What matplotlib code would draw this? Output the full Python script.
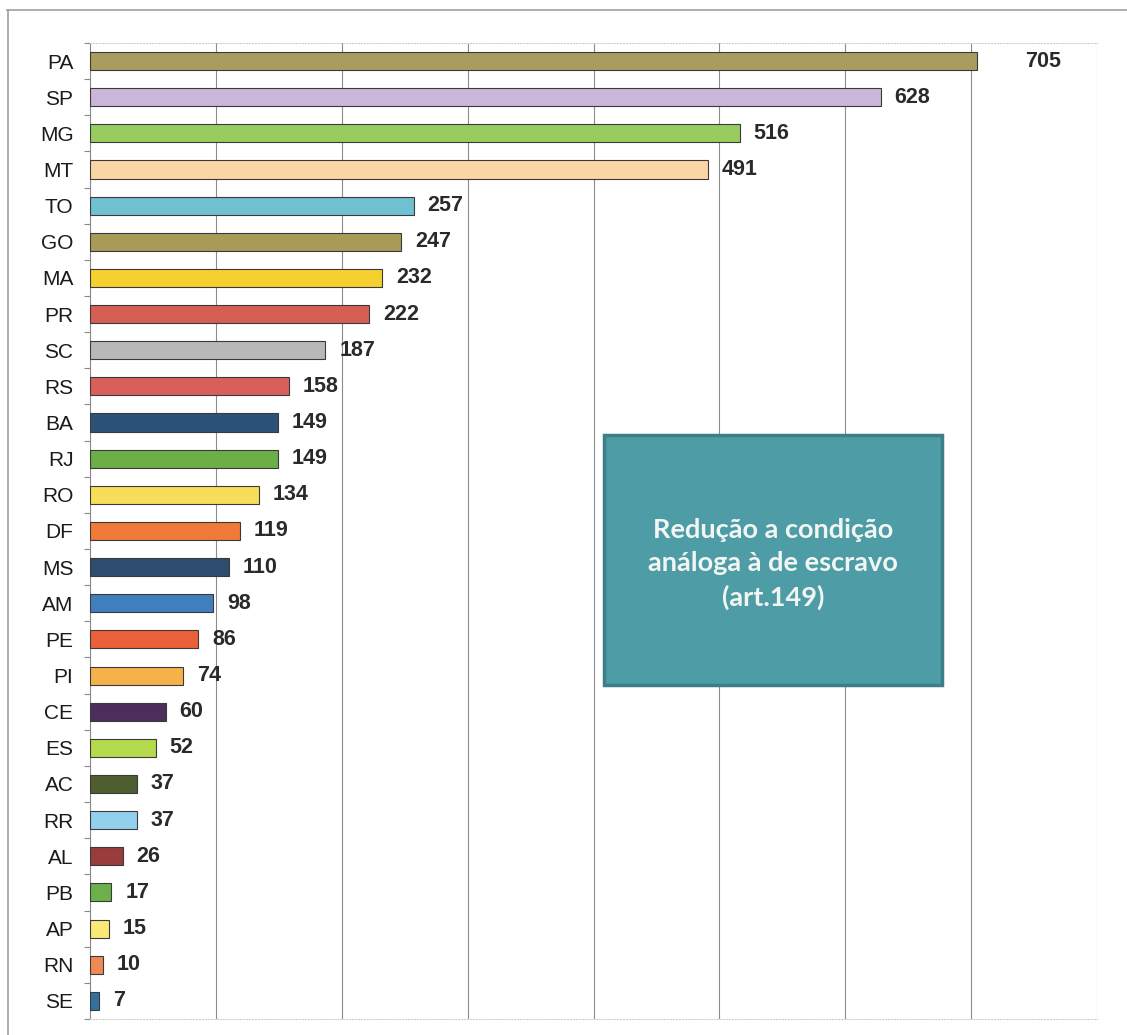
import matplotlib.pyplot as plt
from matplotlib.patches import Rectangle
from matplotlib.lines import Line2D

# Cases per state (art. 149)
states = ['PA', 'SP', 'MG', 'MT', 'TO', 'GO', 'MA', 'PR', 'SC', 'RS', 'BA', 'RJ', 'RO', 'DF',
          'MS', 'AM', 'PE', 'PI', 'CE', 'ES', 'AC', 'RR', 'AL', 'PB', 'AP', 'RN', 'SE']
cases = [705, 628, 516, 491, 257, 247, 232, 222, 187, 158, 149, 149, 134, 119,
         110, 98, 86, 74, 60, 52, 37, 37, 26, 17, 15, 10, 7]
colors = ['#a99c5c', '#c9b6d9', '#98cc5e', '#fbd5a6', '#6fc0d0', '#a89a58', '#f6d030',
          '#d65f55', '#b8b8b8', '#d9605a', '#2d5277', '#6cae48', '#f7dd58', '#f07a38',
          '#2f4d6e', '#3f7fbf', '#e9603a', '#f6b24a', '#4d2d5c', '#b5da4c', '#4f5e2e',
          '#92d0ee', '#983c3c', '#6bb04a', '#f9ea78', '#f08a52', '#33709e']
box_text = 'Redução a condição\nanáloga à de escravo\n(art.149)'

fig = plt.figure(figsize=(11.27, 10.35), dpi=100)
ax = fig.add_axes([0.0799, 0.0155, 0.8935, 0.943])

ypos = list(range(len(states)))
ax.barh(ypos, cases, height=0.5, color=colors, edgecolor='#3a3a3a', linewidth=0.8, zorder=3)

# value labels just past the bar ends (PA label sits further out)
for y, v in zip(ypos, cases):
    dx = 34 if v == max(cases) else 10
    ax.annotate(str(v), (v, y), xytext=(dx, 0), textcoords='offset points',
                va='center', ha='left', fontsize=15.5, fontweight='bold',
                color='#2a2a2a', family='Liberation Sans')

ax.set_xlim(0, 800)
ax.set_ylim(len(states) - 0.5, -0.5)
ax.set_xticks(range(100, 801, 100))
ax.tick_params(axis='x', length=0, labelbottom=False)
ax.grid(axis='x', color='#8c8c8c', linewidth=0.8, zorder=0)

ax.set_yticks(ypos)
ax.set_yticklabels(states, fontsize=15, family='Liberation Sans', color='#1a1a1a')
ax.set_yticks([y - 0.5 for y in ypos] + [len(states) - 0.5], minor=True)
ax.tick_params(axis='y', which='major', length=0, pad=12)
ax.tick_params(axis='y', which='minor', length=4, color='#888888', width=0.8)

ax.spines['right'].set_visible(False)
ax.spines['left'].set_color('#888888')
for side in ('top', 'bottom'):
    ax.spines[side].set_color('#d0d0d0')
    ax.spines[side].set_linestyle(':')

# title box
ax.add_patch(Rectangle((0.5104, 0.3422), 0.3356, 0.2562, transform=ax.transAxes,
                       facecolor='#4d9ca6', edgecolor='#3d7f86', linewidth=2.5, zorder=5))
ax.text(0.678, 0.4665, box_text, transform=ax.transAxes, ha='center', va='center',
        fontsize=19.5, fontweight='bold', color='#f2f6f2', family='Lato',
        linespacing=1.45, zorder=6)

# outer frame
fig.add_artist(Line2D([0.0062, 1.0], [0.9903, 0.9903], color='#a0a0a0', linewidth=1.2))
fig.add_artist(Line2D([0.0071, 0.0071], [0.0, 0.9903], color='#a0a0a0', linewidth=1.2))

fig.savefig('out.png', dpi=100, facecolor='white')
